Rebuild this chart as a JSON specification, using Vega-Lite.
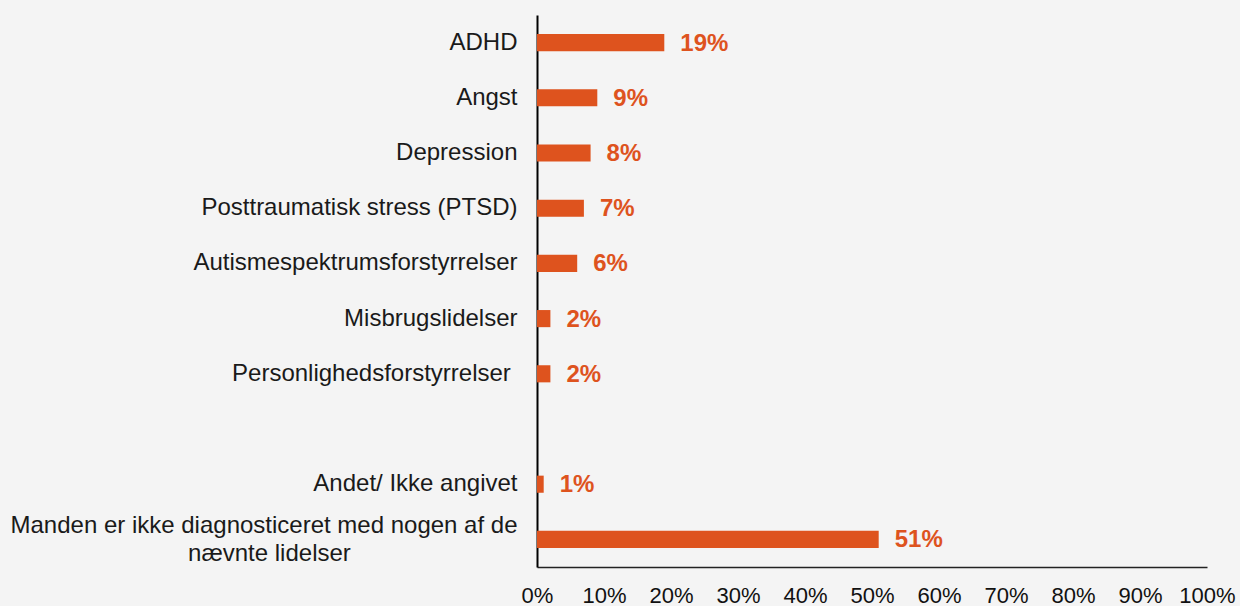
{
  "$schema": "https://vega.github.io/schema/vega-lite/v6.json",
  "autosize": {"type": "none"},
  "width": 670,
  "height": 552,
  "padding": {"left": 537, "top": 15, "right": 33, "bottom": 39},
  "background": "#f4f4f4",
  "config": {"view": {"stroke": null}, "font": "Liberation Sans"},
  "data": {"values": [
    {"k": "a", "v": 0.19},
    {"k": "b", "v": 0.09},
    {"k": "c", "v": 0.08},
    {"k": "d", "v": 0.07},
    {"k": "e", "v": 0.06},
    {"k": "f", "v": 0.02},
    {"k": "g", "v": 0.02},
    {"k": "h", "v": null},
    {"k": "i", "v": 0.01},
    {"k": "j", "v": 0.51}
  ]},
  "encoding": {
    "y": {
      "field": "k", "type": "nominal", "sort": null, "title": null,
      "scale": {"domain": ["a","b","c","d","e","f","g","h","i","j"], "paddingInner": 0.69, "paddingOuter": 0.345},
      "axis": {
        "labelExpr": "datum.value == 'a' ? 'ADHD' : datum.value == 'b' ? 'Angst' : datum.value == 'c' ? 'Depression' : datum.value == 'd' ? 'Posttraumatisk stress (PTSD)' : datum.value == 'e' ? 'Autismespektrumsforstyrrelser' : datum.value == 'f' ? 'Misbrugslidelser' : datum.value == 'g' ? 'Personlighedsforstyrrelser\u00a0\u200b' : datum.value == 'h' ? '' : datum.value == 'i' ? 'Andet/ Ikke angivet' : ['Manden er ikke diagnosticeret med nogen af de', 'nævnte lidelser\u00a0\u00a0\u00a0\u00a0\u00a0\u00a0\u00a0\u00a0\u00a0\u00a0\u00a0\u00a0\u00a0\u00a0\u00a0\u00a0\u00a0\u00a0\u00a0\u00a0\u00a0\u00a0\u00a0\u00a0\u00a0\u200b']",
        "labelOffset": {"condition": {"test": "datum.value == 'j'", "value": -13}, "value": 0},
        "ticks": false,
        "domainColor": "#000000",
        "domainWidth": 2,
        "labelPadding": 20,
        "labelFontSize": 24,
        "labelColor": "#1a1a1a",
        "labelFont": "Liberation Sans",
        "labelLineHeight": 28,
        "labelLimit": 700
      }
    },
    "x": {
      "field": "v", "type": "quantitative", "title": null,
      "scale": {"domain": [0, 1], "nice": false},
      "axis": {
        "format": ".0%", "values": [0,0.1,0.2,0.3,0.4,0.5,0.6,0.7,0.8,0.9,1],
        "ticks": false, "grid": false,
        "domainColor": "#222222", "domainWidth": 1.5,
        "labelFontSize": 22, "labelColor": "#111111",
        "labelPadding": 18, "labelFont": "Liberation Sans",
        "labelOverlap": false, "labelFlush": false
      }
    }
  },
  "layer": [
    {
      "mark": {"type": "bar", "color": "#de531e"}
    },
    {
      "mark": {"type": "text", "align": "left", "baseline": "middle", "dx": 16, "dy": 1, "fontSize": 24, "fontWeight": "bold", "color": "#de531e", "font": "Liberation Sans"},
      "encoding": {
        "text": {"field": "v", "type": "quantitative", "format": ".0%"}
      }
    }
  ]
}
